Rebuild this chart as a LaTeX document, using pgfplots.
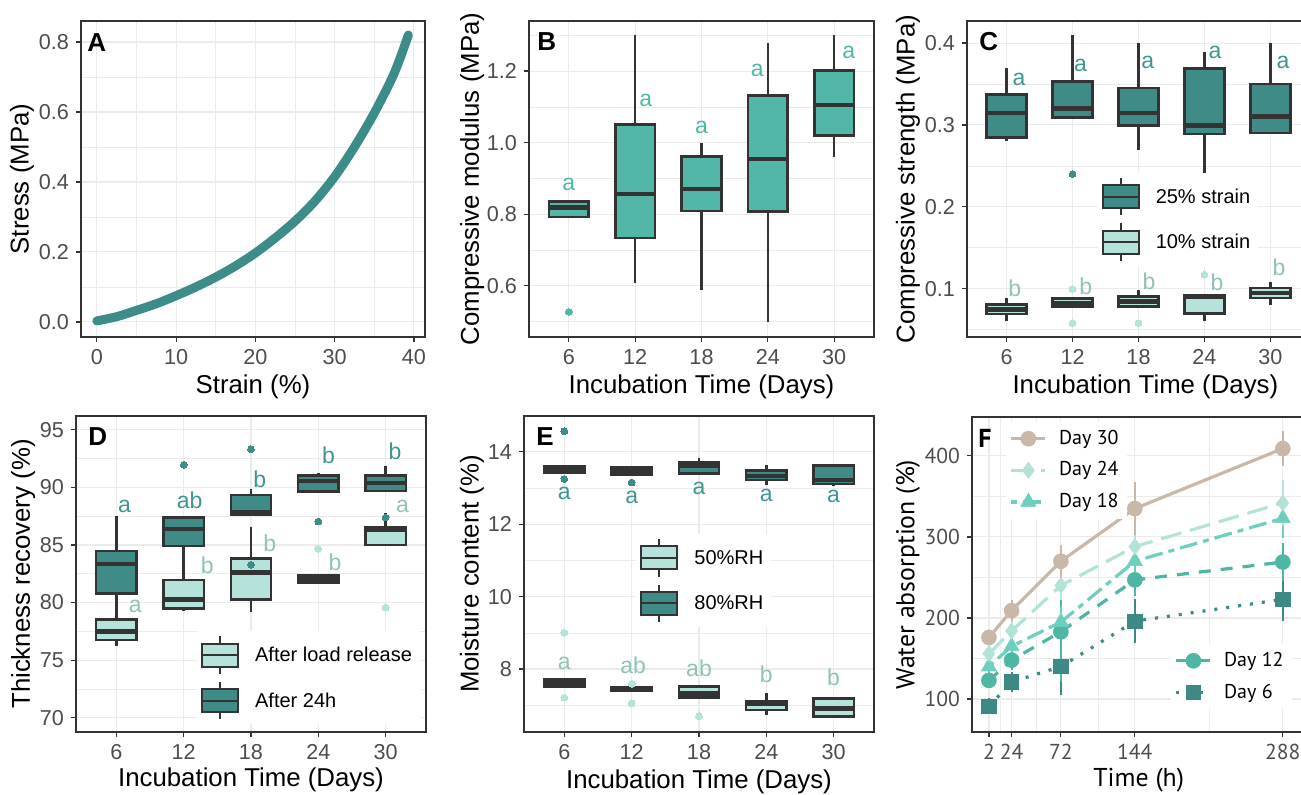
\documentclass[border=0pt]{standalone}
\usepackage{fontspec}
\setmainfont{Liberation Sans}
\newfontfamily\fsans{PT Sans}
\usepackage{pgfplots}
\pgfplotsset{compat=1.18}
\usepgfplotslibrary{statistics}

\definecolor{bordercol}{HTML}{333333}
\definecolor{gridcol}{HTML}{EBEBEB}
\definecolor{tickcol}{HTML}{4D4D4D}
\definecolor{curvecol}{HTML}{3C8C89}
\definecolor{bfill}{HTML}{52B7A6}
\definecolor{dteal}{HTML}{3E8B88}
\definecolor{lteal}{HTML}{B5E2DA}
\definecolor{ateal}{HTML}{3E9690}
\definecolor{bletter}{HTML}{90C2B6}
\definecolor{dthirty}{HTML}{C9B8A8}
\definecolor{dtwentyfour}{HTML}{B3E2D7}
\definecolor{deighteen}{HTML}{6FCFBF}
\definecolor{dtwelve}{HTML}{4DB6A4}
\definecolor{dsix}{HTML}{3D8986}

\newcommand\tickfont{\fontsize{10.8}{12}\selectfont}
\newcommand\labfont{\fontsize{12.9}{14}\selectfont}
\newcommand\letfont{\fontsize{11.5}{12}\selectfont}
\newcommand\legfont{\fontsize{10}{12}\selectfont}
\newcommand\panfont{\fontsize{13}{14}\selectfont\bfseries}
\newcommand\lab[4]{\node[text=#1, font=\letfont, inner sep=0pt] at (axis cs:#2,#3) {#4};}

\pgfplotsset{
  boxplot/every whisker/.style={draw=bordercol, line width=1.3pt},
  boxplot/draw/lower whisker/.code={%
    \draw[draw=bordercol, line width=1.3pt, fill=none]
      (boxplot box cs:\pgfplotsboxplotvalue{lower whisker},0.5) --
      (boxplot box cs:\pgfplotsboxplotvalue{lower quartile},0.5);},
  boxplot/draw/upper whisker/.code={%
    \draw[draw=bordercol, line width=1.3pt, fill=none]
      (boxplot box cs:\pgfplotsboxplotvalue{upper whisker},0.5) --
      (boxplot box cs:\pgfplotsboxplotvalue{upper quartile},0.5);},
  panel/.style={
    scale only axis,
    axis line style={draw=bordercol, line width=0.7pt},
    tick style={draw=bordercol, line width=0.6pt},
    tick align=outside,
    major tick length=2.5pt,
    minor tick length=0pt,
    tick pos=left,
    grid=both,
    major grid style={draw=gridcol, line width=0.55pt},
    minor grid style={draw=gridcol, line width=0.3pt},
    ticklabel style={font=\tickfont, text=tickcol},
    label style={font=\labfont},
    /pgf/number format/assume math mode=true,
    legend cell align=left,
  },
  cat/.style={xmin=0.4, xmax=5.6, xtick={1,2,3,4,5}, xticklabels={6,12,18,24,30}},
  onedec/.style={yticklabel style={/pgf/number format/.cd, fixed, fixed zerofill, precision=1}},
  bx/.style={boxplot/draw direction=y, boxplot/whisker extend=0, boxplot/box extend=0.6, draw=bordercol,
     line width=1.3pt, fill=#1, boxplot/every box/.style={fill=#1, line width=1.3pt},
     boxplot/every median/.style={line width=2.3pt}, mark=none},
  outl/.style={only marks, color=#1, mark=*, mark size=1.7pt, mark options={draw=#1, fill=#1, line width=0pt}},
  boxkey/.style={legend image code/.code={
     \draw[bordercol, line width=1pt] (9pt,-8.9pt) -- (9pt,9.9pt);
     \draw[bordercol, line width=1pt, fill=#1] (0pt,-5.25pt) rectangle (18pt,6.25pt);
     \draw[bordercol, line width=1pt] (0pt,0.5pt) -- (18pt,0.5pt);}},
  bleg/.style={draw=none, fill=white, font=\legfont, inner sep=2pt, row sep=3pt,
     /tikz/every odd column/.append style={column sep=6pt}},
  f30/.style={color=dthirty, line width=1.6pt, solid, mark=*, mark size=3.75pt, mark options={solid, line width=0.3pt}},
  f24/.style={color=dtwentyfour, line width=1.6pt, dash pattern=on 10.5pt off 4.5pt, mark=diamond*, mark size=4pt, mark options={solid, line width=0.3pt}},
  f18/.style={color=deighteen, line width=1.6pt, dash pattern=on 3pt off 3pt on 9pt off 3pt, mark=triangle*, mark size=4.4pt, mark options={solid, line width=0.3pt}},
  f12/.style={color=dtwelve, line width=1.6pt, dash pattern=on 6pt off 5pt, mark=*, mark size=3.75pt, mark options={solid, line width=0.3pt}},
  f6/.style={color=dsix, line width=1.6pt, dash pattern=on 1.5pt off 4.5pt, mark=square*, mark size=3.6pt, mark options={solid, line width=0.3pt}},
  eb/.style={error bars/.cd, y dir=both, y explicit, error mark=none, error bar style={line width=1pt, solid}},
  fleg/.style={draw=none, fill=white, font=\fsans\legfont, inner sep=2pt, row sep=3.2pt,
     /tikz/every odd column/.append style={column sep=4pt}},
}

\begin{document}
\begin{tikzpicture}
\useasboundingbox (0pt,0pt) rectangle (650.5pt,397.5pt);

% ---------------- A ----------------
\begin{axis}[panel, onedec, at={(40.5pt,229pt)}, anchor=south west, width=172pt, height=158pt,
  xmin=-2, xmax=41.4, ymin=-0.043, ymax=0.86,
  xtick={0,10,20,30,40}, minor xtick={5,15,25,35},
  ytick={0,0.2,0.4,0.6,0.8}, minor ytick={0.1,0.3,0.5,0.7},
  xlabel={Strain (\%)}, ylabel={Stress (MPa)},
  xlabel style={at={(axis description cs:0.5,-0.158)}, anchor=center},
  ylabel style={at={(axis description cs:-0.1715,0.5)}, anchor=center}]
\addplot[curvecol, line width=4.5pt, line cap=round, smooth] coordinates {
(0,0.003)(2.5,0.015)(5,0.033)(7.5,0.052)(10,0.075)(12.5,0.1)(15,0.128)(17.5,0.16)
(20,0.197)(22.5,0.24)(25,0.288)(27.5,0.345)(30,0.415)(32.5,0.5)(35,0.597)(37.5,0.71)(39.3,0.82)};
\node[anchor=north west, font=\panfont, inner sep=0pt, xshift=3pt, yshift=-6pt] at (rel axis cs:0,1) {A};
\end{axis}

% ---------------- B ----------------
\begin{axis}[panel, onedec, cat, at={(264.5pt,229pt)}, anchor=south west, width=172.5pt, height=158pt,
  ymin=0.457, ymax=1.34,
  ytick={0.6,0.8,1.0,1.2}, minor ytick={0.5,0.7,0.9,1.1,1.3},
  xlabel={Incubation Time (Days)}, ylabel={Compressive modulus (MPa)},
  xlabel style={at={(axis description cs:0.5,-0.158)}, anchor=center},
  ylabel style={at={(axis description cs:-0.165,0.5)}, anchor=center}]
\addplot[bx=bfill, boxplot prepared={draw position=1, lower whisker=0.792, lower quartile=0.792, median=0.818, upper quartile=0.835, upper whisker=0.835}] coordinates {};
\addplot[bx=bfill, boxplot prepared={draw position=2, lower whisker=0.609, lower quartile=0.734, median=0.857, upper quartile=1.051, upper whisker=1.30}] coordinates {};
\addplot[bx=bfill, boxplot prepared={draw position=3, lower whisker=0.589, lower quartile=0.809, median=0.871, upper quartile=0.961, upper whisker=1.0}] coordinates {};
\addplot[bx=bfill, boxplot prepared={draw position=4, lower whisker=0.499, lower quartile=0.807, median=0.954, upper quartile=1.131, upper whisker=1.279}] coordinates {};
\addplot[bx=bfill, boxplot prepared={draw position=5, lower whisker=0.961, lower quartile=1.02, median=1.105, upper quartile=1.202, upper whisker=1.30}] coordinates {};
\addplot[outl=bfill] coordinates {(1,0.527)};
\lab{bfill}{1}{0.882}{a}
\lab{bfill}{2.16}{1.119}{a}
\lab{bfill}{3}{1.042}{a}
\lab{bfill}{3.84}{1.203}{a}
\lab{bfill}{5.22}{1.252}{a}
\node[anchor=north west, font=\panfont, inner sep=0pt, xshift=4pt, yshift=-5.5pt] at (rel axis cs:0,1) {B};
\end{axis}

% ---------------- C ----------------
\begin{axis}[panel, cat, at={(483.5pt,229pt)}, anchor=south west, width=171.5pt, height=158pt,
  ymin=0.041, ymax=0.427,
  ytick={0.1,0.2,0.3,0.4}, minor ytick={0.05,0.15,0.25,0.35},
  yticklabel style={/pgf/number format/.cd, fixed, fixed zerofill, precision=1},
  xlabel={Incubation Time (Days)}, ylabel={Compressive strength (MPa)},
  xlabel style={at={(axis description cs:0.52,-0.158)}, anchor=center},
  ylabel style={at={(axis description cs:-0.172,0.5)}, anchor=center},
  legend style={bleg, at={(rel axis cs:0.38,0.521)}, anchor=north west}]
\addlegendimage{boxkey=dteal}\addlegendentry{25\% strain}
\addlegendimage{boxkey=lteal}\addlegendentry{10\% strain}
\addplot[bx=dteal, boxplot prepared={draw position=1, lower whisker=0.280, lower quartile=0.285, median=0.3145, upper quartile=0.337, upper whisker=0.369}] coordinates {};
\addplot[bx=dteal, boxplot prepared={draw position=2, lower whisker=0.309, lower quartile=0.309, median=0.320, upper quartile=0.353, upper whisker=0.410}] coordinates {};
\addplot[bx=dteal, boxplot prepared={draw position=3, lower whisker=0.270, lower quartile=0.2995, median=0.3145, upper quartile=0.345, upper whisker=0.400}] coordinates {};
\addplot[bx=dteal, boxplot prepared={draw position=4, lower whisker=0.240, lower quartile=0.289, median=0.2995, upper quartile=0.369, upper whisker=0.389}] coordinates {};
\addplot[bx=dteal, boxplot prepared={draw position=5, lower whisker=0.290, lower quartile=0.290, median=0.310, upper quartile=0.350, upper whisker=0.400}] coordinates {};
\addplot[outl=dteal] coordinates {(2,0.240)};
\addplot[bx=lteal, boxplot prepared={draw position=1, lower whisker=0.060, lower quartile=0.069, median=0.0745, upper quartile=0.0805, upper whisker=0.0886}] coordinates {};
\addplot[bx=lteal, boxplot prepared={draw position=2, lower whisker=0.0777, lower quartile=0.0777, median=0.0818, upper quartile=0.0878, upper whisker=0.0878}] coordinates {};
\addplot[bx=lteal, boxplot prepared={draw position=3, lower whisker=0.0785, lower quartile=0.0785, median=0.0846, upper quartile=0.0907, upper whisker=0.0988}] coordinates {};
\addplot[bx=lteal, boxplot prepared={draw position=4, lower whisker=0.060, lower quartile=0.0695, median=0.0907, upper quartile=0.0915, upper whisker=0.0915}] coordinates {};
\addplot[bx=lteal, boxplot prepared={draw position=5, lower whisker=0.0805, lower quartile=0.0886, median=0.0947, upper quartile=0.1009, upper whisker=0.1078}] coordinates {};
\addplot[outl=lteal] coordinates {(2,0.0996)(2,0.058)(3,0.058)(4,0.117)};
\lab{ateal}{1.19}{0.355}{a}
\lab{ateal}{2.12}{0.373}{a}
\lab{ateal}{3.14}{0.376}{a}
\lab{ateal}{4.16}{0.388}{a}
\lab{ateal}{5.19}{0.376}{a}
\lab{bletter}{1.125}{0.100}{b}
\lab{bletter}{2.2}{0.103}{b}
\lab{bletter}{3.16}{0.109}{b}
\lab{bletter}{4.19}{0.108}{b}
\lab{bletter}{5.13}{0.126}{b}
\node[anchor=north west, font=\panfont, inner sep=0pt, xshift=6pt, yshift=-5.5pt] at (rel axis cs:0,1) {C};
\end{axis}

% ---------------- D ----------------
\begin{axis}[panel, cat, at={(38pt,31.5pt)}, anchor=south west, width=175pt, height=158pt,
  ymin=68.76, ymax=96.2,
  ytick={70,75,80,85,90,95}, minor ytick={72.5,77.5,82.5,87.5,92.5},
  xlabel={Incubation Time (Days)}, ylabel={Thickness recovery (\%)},
  xlabel style={at={(axis description cs:0.5,-0.152)}, anchor=center},
  ylabel style={at={(axis description cs:-0.151,0.5)}, anchor=center},
  legend style={bleg, at={(rel axis cs:0.345,0.32)}, anchor=north west}]
\addlegendimage{boxkey=lteal}\addlegendentry{After load release}
\addlegendimage{boxkey=dteal}\addlegendentry{After 24h}
\addplot[bx=lteal, boxplot prepared={draw position=1, lower whisker=76.26, lower quartile=76.75, median=77.47, upper quartile=78.55, upper whisker=78.55}] coordinates {};
\addplot[bx=lteal, boxplot prepared={draw position=2, lower whisker=79.3, lower quartile=79.5, median=80.28, upper quartile=81.96, upper whisker=81.96}] coordinates {};
\addplot[bx=lteal, boxplot prepared={draw position=3, lower whisker=79.21, lower quartile=80.28, median=82.6, upper quartile=83.85, upper whisker=86.6}] coordinates {};
\addplot[bx=lteal, boxplot prepared={draw position=4, lower whisker=81.73, lower quartile=81.73, median=82.1, upper quartile=82.4, upper whisker=82.4}] coordinates {};
\addplot[bx=lteal, boxplot prepared={draw position=5, lower whisker=85.0, lower quartile=85.0, median=86.31, upper quartile=86.54, upper whisker=87.76}] coordinates {};
\addplot[outl=lteal] coordinates {(4,84.66)(5,79.56)};
\addplot[bx=dteal, boxplot prepared={draw position=1, lower whisker=78.55, lower quartile=80.81, median=83.33, upper quartile=84.48, upper whisker=87.53}] coordinates {};
\addplot[bx=dteal, boxplot prepared={draw position=2, lower whisker=81.96, lower quartile=84.92, median=86.4, upper quartile=87.41, upper whisker=87.41}] coordinates {};
\addplot[bx=dteal, boxplot prepared={draw position=3, lower whisker=87.6, lower quartile=87.6, median=87.82, upper quartile=89.35, upper whisker=89.84}] coordinates {};
\addplot[bx=dteal, boxplot prepared={draw position=4, lower whisker=89.64, lower quartile=89.64, median=90.57, upper quartile=91.03, upper whisker=91.29}] coordinates {};
\addplot[bx=dteal, boxplot prepared={draw position=5, lower whisker=89.7, lower quartile=89.7, median=90.37, upper quartile=91.03, upper whisker=91.9}] coordinates {};
\addplot[outl=dteal] coordinates {(2,91.96)(3,93.32)(3,83.27)(4,87.03)(5,87.38)};
\lab{ateal}{1.12}{88.34}{a}
\lab{ateal}{2.09}{88.9}{ab}
\lab{ateal}{3.13}{90.74}{b}
\lab{ateal}{4.15}{92.83}{b}
\lab{ateal}{5.14}{93.1}{b}
\lab{bletter}{1.28}{79.65}{a}
\lab{bletter}{2.35}{83.27}{b}
\lab{bletter}{3.28}{85.15}{b}
\lab{bletter}{4.25}{83.47}{b}
\lab{bletter}{5.25}{88.34}{a}
\node[anchor=north west, font=\panfont, inner sep=0pt, xshift=6pt, yshift=-5.5pt] at (rel axis cs:0,1) {D};
\end{axis}

% ---------------- E ----------------
\begin{axis}[panel, cat, at={(262pt,31.5pt)}, anchor=south west, width=175pt, height=158pt,
  ymin=6.26, ymax=14.99,
  ytick={8,10,12,14}, minor ytick={7,9,11,13},
  xlabel={Incubation Time (Days)}, ylabel={Moisture content (\%)},
  xlabel style={at={(axis description cs:0.5,-0.158)}, anchor=center},
  ylabel style={at={(axis description cs:-0.149,0.5)}, anchor=center},
  legend style={bleg, at={(rel axis cs:0.32,0.628)}, anchor=north west}]
\addlegendimage{boxkey=lteal}\addlegendentry{50\%RH}
\addlegendimage{boxkey=dteal}\addlegendentry{80\%RH}
\addplot[bx=lteal, boxplot prepared={draw position=1, lower whisker=7.51, lower quartile=7.51, median=7.62, upper quartile=7.71, upper whisker=7.71}] coordinates {};
\addplot[bx=lteal, boxplot prepared={draw position=2, lower whisker=7.39, lower quartile=7.39, median=7.44, upper quartile=7.49, upper whisker=7.49}] coordinates {};
\addplot[bx=lteal, boxplot prepared={draw position=3, lower whisker=7.21, lower quartile=7.21, median=7.33, upper quartile=7.51, upper whisker=7.56}] coordinates {};
\addplot[bx=lteal, boxplot prepared={draw position=4, lower whisker=6.73, lower quartile=6.87, median=7.03, upper quartile=7.10, upper whisker=7.33}] coordinates {};
\addplot[bx=lteal, boxplot prepared={draw position=5, lower whisker=6.68, lower quartile=6.68, median=6.91, upper quartile=7.19, upper whisker=7.19}] coordinates {};
\addplot[outl=lteal] coordinates {(1,9.0)(1,7.21)(2,7.59)(2,7.05)(3,6.70)};
\addplot[bx=dteal, boxplot prepared={draw position=1, lower whisker=13.43, lower quartile=13.43, median=13.51, upper quartile=13.59, upper whisker=13.59}] coordinates {};
\addplot[bx=dteal, boxplot prepared={draw position=2, lower whisker=13.38, lower quartile=13.38, median=13.48, upper quartile=13.56, upper whisker=13.56}] coordinates {};
\addplot[bx=dteal, boxplot prepared={draw position=3, lower whisker=13.40, lower quartile=13.40, median=13.61, upper quartile=13.71, upper whisker=13.82}] coordinates {};
\addplot[bx=dteal, boxplot prepared={draw position=4, lower whisker=13.08, lower quartile=13.22, median=13.33, upper quartile=13.49, upper whisker=13.63}] coordinates {};
\addplot[bx=dteal, boxplot prepared={draw position=5, lower whisker=13.05, lower quartile=13.11, median=13.22, upper quartile=13.62, upper whisker=13.62}] coordinates {};
\addplot[outl=dteal] coordinates {(1,14.57)(1,13.25)(2,13.15)};
\lab{ateal}{1}{12.85}{a}
\lab{ateal}{2}{12.74}{a}
\lab{ateal}{3}{12.99}{a}
\lab{ateal}{4}{12.79}{a}
\lab{ateal}{5}{12.76}{a}
\lab{bletter}{1}{8.16}{a}
\lab{bletter}{2.02}{8.09}{ab}
\lab{bletter}{3}{8.02}{ab}
\lab{bletter}{4}{7.86}{b}
\lab{bletter}{5}{7.77}{b}
\node[anchor=north west, font=\panfont, inner sep=0pt, xshift=6pt, yshift=-5.5pt] at (rel axis cs:0,1) {E};
\end{axis}

% ---------------- F ----------------
\begin{axis}[panel, at={(486pt,31.5pt)}, anchor=south west, width=166.7pt, height=157.5pt,
  xmin=-14.5, xmax=310, ymin=59.3, ymax=448,
  xtick={2,24,72,144,288}, minor xtick={13,48,108,216},
  ytick={100,200,300,400}, minor ytick={150,250,350},
  ticklabel style={font=\fsans\tickfont},
  label style={font=\fsans\labfont},
  xlabel={Time (h)}, ylabel={Water absorption (\%)},
  xlabel style={at={(axis description cs:0.5,-0.152)}, anchor=center},
  ylabel style={at={(axis description cs:-0.192,0.5)}, anchor=center},
  legend style={fleg, at={(rel axis cs:0.1,0.985)}, anchor=north west}]
\addlegendimage{f30}\addlegendentry{Day 30}
\addlegendimage{f24}\addlegendentry{Day 24}
\addlegendimage{f18}\addlegendentry{Day 18}
\addplot[f6, eb] coordinates {(2,91)+-(0,10)(24,121)+-(0,12)(72,140)+-(0,35)(144,196)+-(0,27)(288,223)+-(0,27)};
\addplot[f12, eb] coordinates {(2,123)+-(0,10)(24,148)+-(0,12)(72,183)+-(0,62)(144,247)+-(0,20)(288,269)+-(0,23)};
\addplot[f18, eb] coordinates {(2,140)+-(0,10)(24,165)+-(0,12)(72,195)+-(0,20)(144,270)+-(0,20)(288,323)+-(0,24)};
\addplot[f24, eb] coordinates {(2,156)+-(0,8)(24,184)+-(0,12)(72,240)+-(0,18)(144,288)+-(0,15)(288,342)+-(0,28)};
\addplot[f30, eb] coordinates {(2,176)+-(0,8)(24,209)+-(0,13)(72,270)+-(0,20)(144,335)+-(0,33)(288,409)+-(0,22)};
\node[anchor=north west, font=\fsans\panfont, inner sep=0pt, xshift=3pt, yshift=-6pt] at (rel axis cs:0,1) {F};
\end{axis}
\begin{axis}[scale only axis, hide axis, at={(486pt,31.5pt)}, anchor=south west, width=166.7pt, height=157.5pt,
  xmin=-14.5, xmax=310, ymin=59.3, ymax=448, legend cell align=left,
  legend style={fleg, at={(rel axis cs:0.595,0.28)}, anchor=north west}]
\addlegendimage{f12}\addlegendentry{Day 12}
\addlegendimage{f6}\addlegendentry{Day 6}
\end{axis}
\end{tikzpicture}
\end{document}
